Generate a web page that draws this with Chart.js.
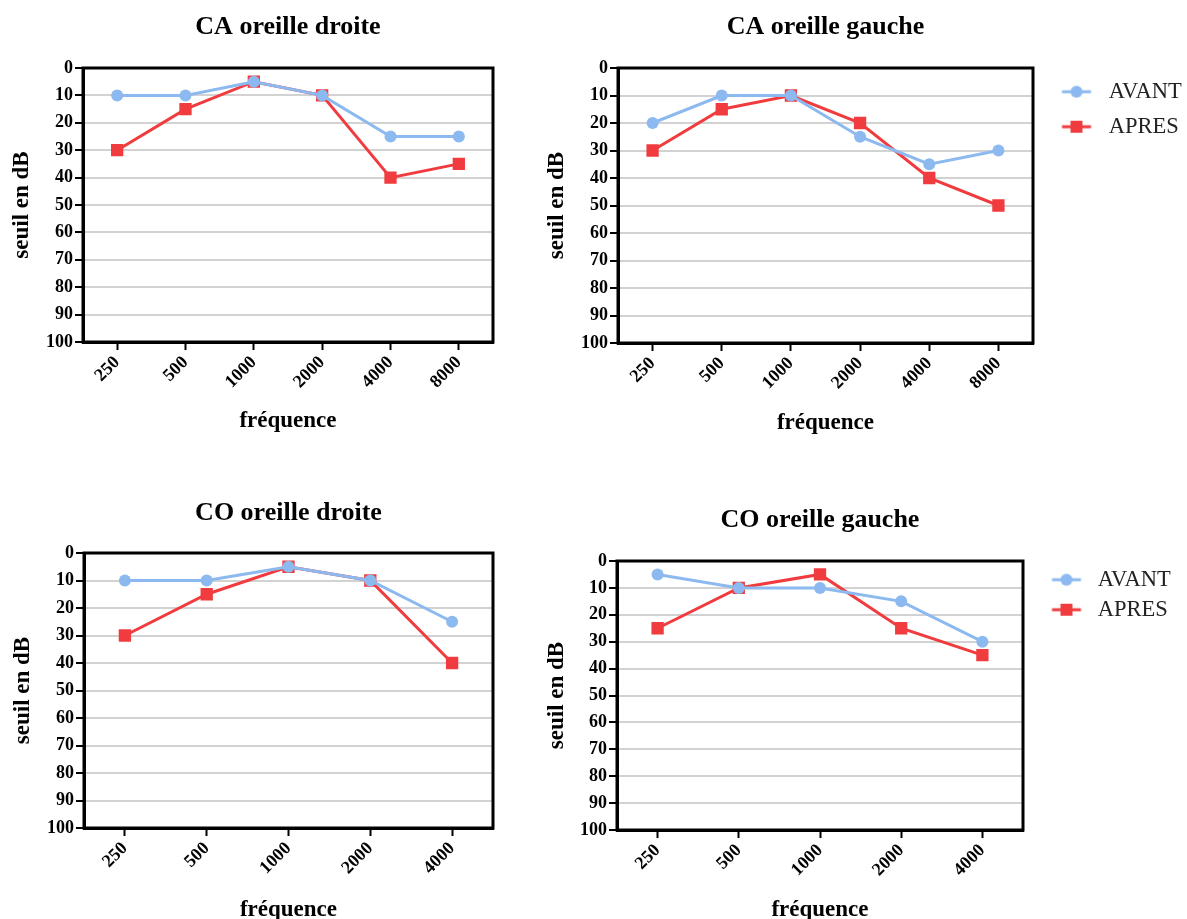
<!DOCTYPE html>
<html>
<head>
<meta charset="utf-8">
<title>Seuils auditifs</title>
<script src="https://cdn.jsdelivr.net/npm/chart.js@4.4.1/dist/chart.umd.min.js"></script>
<style>
    html, body { margin: 0; padding: 0; background: #fff; overflow: hidden; }
    .panel { position: absolute; }
</style>
</head>
<body>
<div class="panel" style="left:0;top:0"><canvas id="caDroite" width="520" height="440"></canvas></div>
<div class="panel" style="left:540px;top:0"><canvas id="caGauche" width="647" height="440"></canvas></div>
<div class="panel" style="left:0;top:490px"><canvas id="coDroite" width="520" height="440"></canvas></div>
<div class="panel" style="left:540px;top:490px"><canvas id="coGauche" width="647" height="440"></canvas></div>

<script>
// Data
const freqCA = ['250', '500', '1000', '2000', '4000', '8000'];
const freqCO = ['250', '500', '1000', '2000', '4000'];

const caDroiteAvant = [10, 10, 5, 10, 25, 25];
const caDroiteApres = [30, 15, 5, 10, 40, 35];
const caGaucheAvant = [20, 10, 10, 25, 35, 30];
const caGaucheApres = [30, 15, 10, 20, 40, 50];
const coDroiteAvant = [10, 10, 5, 10, 25];
const coDroiteApres = [30, 15, 5, 10, 40];
const coGaucheAvant = [5, 10, 10, 15, 30];
const coGaucheApres = [25, 10, 5, 25, 35];

const seuilMin = 0;
const seuilMax = 100;
const seuilStep = 10;

const BLUE = '#8cb9ef';
const RED = '#f03c3e';
const FONT = '"Liberation Serif", "Times New Roman", serif';

// Legend icon: short line with the marker in the middle
function legendIcon(color, style, offset, width) {
    const c = document.createElement('canvas');
    c.width = width;
    c.height = 14;
    const ctx = c.getContext('2d');
    ctx.strokeStyle = color;
    ctx.fillStyle = color;
    ctx.lineWidth = 3;
    ctx.beginPath();
    ctx.moveTo(offset, 7);
    ctx.lineTo(offset + 29, 7);
    ctx.stroke();
    const cx = offset + 14.5;
    if (style === 'circle') {
        ctx.beginPath();
        ctx.arc(cx, 7, 6, 0, Math.PI * 2);
        ctx.fill();
    } else {
        ctx.fillRect(cx - 6, 1, 12, 12);
    }
    return c;
}

// Black frame around the plot area
const framePlugin = {
    id: 'frame',
    beforeDatasetsDraw(chart) {
        const { ctx, chartArea: a } = chart;
        ctx.save();
        ctx.strokeStyle = '#000';
        ctx.lineWidth = 3;
        ctx.strokeRect(a.left, a.top, a.right - a.left, a.bottom - a.top);
        ctx.restore();
    }
};

const panels = [
    { id: 'caDroite', title: 'CA oreille droite', labels: freqCA, avant: caDroiteAvant, apres: caDroiteApres,
      legend: null, yw: 83, ytp: 8, xh: 98, xtp: 5, tpt: 12, tpb: 24.8, right: 27 },
    { id: 'caGauche', title: 'CA oreille gauche', labels: freqCA, avant: caGaucheAvant, apres: caGaucheApres,
      legend: { pad: 12.5, off: 16.5, w: 52 }, yw: 78, ytp: 3, xh: 97, xtp: 3, tpt: 12, tpb: 24.8, right: 4 },
    { id: 'coDroite', title: 'CO oreille droite', labels: freqCO, avant: coDroiteAvant, apres: coDroiteApres,
      legend: null, yw: 84, ytp: 9, xh: 102, xtp: 6, tpt: 7.4, tpb: 24.4, right: 27 },
    { id: 'coGauche', title: 'CO oreille gauche', labels: freqCO, avant: coGaucheAvant, apres: coGaucheApres,
      legend: { pad: 7.5, off: 21.5, w: 56 }, yw: 77, ytp: 3, xh: 100, xtp: 6, tpt: 14.4, tpb: 25.4, right: 14 }
];

panels.forEach(p => {
    const ctx = document.getElementById(p.id).getContext('2d');

    const legendOpts = p.legend ? {
        display: true,
        position: 'right',
        align: 'start',
        fullSize: false,
        maxWidth: 150,
        labels: {
            usePointStyle: true,
            pointStyleWidth: p.legend.w,
            padding: p.legend.pad,
            color: '#222',
            font: { family: FONT, size: 22.5 },
            generateLabels(chart) {
                const items = Chart.defaults.plugins.legend.labels.generateLabels(chart);
                return items.map((item, i) => {
                    const ds = chart.data.datasets[i];
                    item.pointStyle = legendIcon(ds.borderColor, ds.pointStyle, p.legend.off, p.legend.w);
                    return item;
                });
            }
        }
    } : { display: false };

    new Chart(ctx, {
        type: 'line',
        data: {
            labels: p.labels,
            datasets: [{
                label: 'AVANT',
                data: p.avant,
                borderColor: BLUE,
                backgroundColor: BLUE,
                borderWidth: 3,
                pointStyle: 'circle',
                pointRadius: 6,
                pointBorderWidth: 0,
                tension: 0
            }, {
                label: 'APRES',
                data: p.apres,
                borderColor: RED,
                backgroundColor: RED,
                borderWidth: 3,
                pointStyle: 'rect',
                pointRadius: 8.7,
                pointBorderWidth: 0,
                tension: 0
            }]
        },
        options: {
            responsive: false,
            animation: false,
            layout: { padding: { left: 0, right: p.right, top: 0, bottom: 0 } },
            plugins: {
                title: {
                    display: true,
                    text: p.title,
                    fullSize: false,
                    color: '#000',
                    font: { family: FONT, size: 26, weight: 'bold' },
                    padding: { top: p.tpt, bottom: p.tpb }
                },
                legend: legendOpts,
                tooltip: { enabled: false }
            },
            scales: {
                x: {
                    offset: true,
                    grid: { display: true, drawOnChartArea: false, drawTicks: true, tickLength: 8, tickColor: '#000', tickWidth: 2 },
                    border: { display: true, color: '#000', width: 3 },
                    ticks: {
                        color: '#000',
                        font: { family: FONT, size: 18, weight: 'bold' },
                        maxRotation: 45,
                        minRotation: 45,
                        autoSkip: false,
                        padding: 2
                    },
                    title: {
                        display: true,
                        text: 'fréquence',
                        color: '#000',
                        font: { family: FONT, size: 23, weight: 'bold' },
                        padding: { top: 0, bottom: p.xtp }
                    },
                    afterFit(scale) { scale.height = p.xh; }
                },
                y: {
                    reverse: true,
                    min: seuilMin,
                    max: seuilMax,
                    grid: { color: '#d2d2d2', lineWidth: 2, tickColor: '#000', tickLength: 8, tickWidth: 2 },
                    border: { display: true, color: '#000', width: 3 },
                    ticks: {
                        stepSize: seuilStep,
                        color: '#000',
                        font: { family: FONT, size: 18, weight: 'bold' },
                        padding: 2
                    },
                    title: {
                        display: true,
                        text: 'seuil en dB',
                        color: '#000',
                        font: { family: FONT, size: 23, weight: 'bold' },
                        padding: { top: p.ytp, bottom: 0 }
                    },
                    afterFit(scale) { scale.width = p.yw; }
                }
            }
        },
        plugins: [framePlugin]
    });
});
</script>
</body>
</html>
